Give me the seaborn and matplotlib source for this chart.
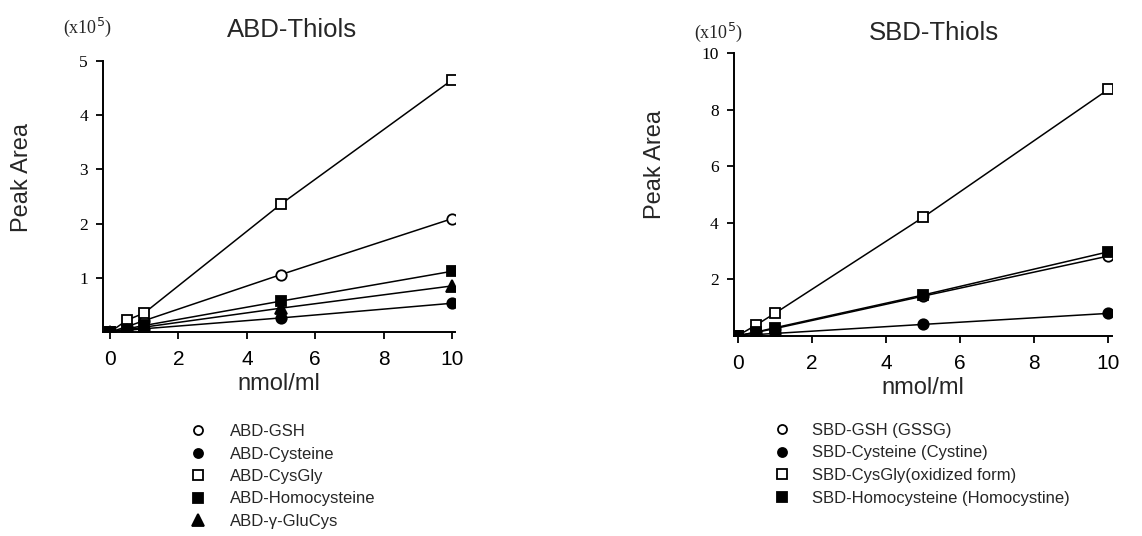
import numpy as np
import pandas as pd
import matplotlib
matplotlib.use("Agg")
import matplotlib.pyplot as plt
from matplotlib.lines import Line2D
import seaborn as sns

# ---------------- data (peak area, x10^5) ----------------
conc = [0, 0.5, 1, 5, 10]  # nmol/ml

abd_names = ["ABD-GSH", "ABD-Cysteine", "ABD-CysGly", "ABD-Homocysteine", "ABD-\u03b3-GluCys"]
abd_gsh = [0.0, 0.10, 0.21, 1.06, 2.09]
abd_cys = [0.0, 0.03, 0.06, 0.26, 0.53]
abd_cysgly = [0.0, 0.22, 0.35, 2.36, 4.65]
abd_hcy = [0.0, 0.06, 0.12, 0.57, 1.12]
abd_glucys = [0.0, 0.04, 0.09, 0.44, 0.85]

sbd_names = ["SBD-GSH (GSSG)", "SBD-Cysteine (Cystine)", "SBD-CysGly(oxidized form)",
             "SBD-Homocysteine (Homocystine)"]
sbd_gsh = [0.0, 0.12, 0.25, 1.40, 2.82]
sbd_cys = [0.0, 0.04, 0.08, 0.40, 0.79]
sbd_cysgly = [0.0, 0.38, 0.79, 4.19, 8.72]
sbd_hcy = [0.0, 0.13, 0.28, 1.44, 2.97]

abd_series = [abd_gsh, abd_cys, abd_cysgly, abd_hcy, abd_glucys]
sbd_series = [sbd_gsh, sbd_cys, sbd_cysgly, sbd_hcy]

# marker styles: (marker, filled)
abd_styles = [("o", False), ("o", True), ("s", False), ("s", True), ("^", True)]
sbd_styles = [("o", False), ("o", True), ("s", False), ("s", True)]

x_ticks = [0, 2, 4, 6, 8, 10]
abd_yticks = [1, 2, 3, 4, 5]
sbd_yticks = [2, 4, 6, 8, 10]

# ---------------- style ----------------
sns.set_style("ticks")
plt.rcParams["font.family"] = ["Liberation Sans", "DejaVu Sans"]
SERIF = ["Liberation Serif", "DejaVu Serif"]

fig = plt.figure(figsize=(11.42, 5.36), dpi=100)
W, H = 1142, 536


def add_axes_px(x0, x1, ytop, ybot):
    return fig.add_axes([x0 / W, (H - ybot) / H, (x1 - x0) / W, (ybot - ytop) / H])


def draw_panel(ax, names, series, styles, ymax, yticks, xlim):
    rows = []
    for name, vals in zip(names, series):
        for c, v in zip(conc, vals):
            rows.append({"series": name, "conc": c, "area": v})
    df = pd.DataFrame(rows)
    for name, (m, filled) in zip(names, styles):
        sub = df[df["series"] == name]
        sns.lineplot(data=sub, x="conc", y="area", ax=ax, color="black", lw=1.1,
                     marker=m, markersize=7.5 if m != "^" else 8.5,
                     markerfacecolor="black" if filled else "white",
                     markeredgecolor="black", markeredgewidth=1.3, legend=False)
    ax.set_xlim(*xlim)
    ax.set_ylim(0, ymax)
    ax.set_xticks(x_ticks)
    ax.set_yticks(yticks)
    ax.set_xticklabels([str(t) for t in x_ticks], fontsize=15)
    ax.set_yticklabels([str(t) for t in yticks], fontsize=12.5, family=SERIF)
    for s in ["top", "right"]:
        ax.spines[s].set_visible(False)
    for s in ["left", "bottom"]:
        ax.spines[s].set_linewidth(1.4)
        ax.spines[s].set_color("black")
    ax.tick_params(direction="out", length=5, width=1.3, colors="black")
    ax.tick_params(axis="x", pad=8)
    ax.tick_params(axis="y", pad=6)
    ax.set_xlabel("nmol/ml", fontsize=17, labelpad=3)
    ax.set_ylabel("")


axL = add_axes_px(103.2, 455.4, 61, 332)
draw_panel(axL, abd_names, abd_series, abd_styles, 5, abd_yticks, (-0.2, 10.1))
axR = add_axes_px(734, 1112, 53.3, 335.7)
draw_panel(axR, sbd_names, sbd_series, sbd_styles, 10, sbd_yticks, (-0.1, 10.1))

# titles, y-labels, multipliers
fig.text(292 / W, 1 - 30 / H, "ABD-Thiols", ha="center", va="center", fontsize=18.5)
fig.text(934 / W, 1 - 33 / H, "SBD-Thiols", ha="center", va="center", fontsize=18.5)
fig.text(22 / W, 1 - 177 / H, "Peak Area", rotation=90, ha="center", va="center", fontsize=17)
fig.text(655 / W, 1 - 165 / H, "Peak Area", rotation=90, ha="center", va="center", fontsize=17)
fig.text(87 / W, 1 - 27 / H, "(x10$^5$)", ha="center", va="center", fontsize=13, family=SERIF)
fig.text(718 / W, 1 - 32 / H, "(x10$^5$)", ha="center", va="center", fontsize=13, family=SERIF)


def make_handles(styles):
    hs = []
    for m, filled in styles:
        hs.append(Line2D([], [], linestyle="none", marker=m,
                         markersize=6.5 if m != "^" else 9,
                         markerfacecolor="black" if filled else "white",
                         markeredgecolor="black", markeredgewidth=1.3))
    return hs


legL = fig.legend(make_handles(abd_styles), abd_names, loc="upper left",
                  bbox_to_anchor=(188 / W, 1 - 424 / H), frameon=False,
                  fontsize=12, handletextpad=1.3, labelspacing=0.45,
                  handlelength=1.2, borderpad=0, borderaxespad=0)
legR = fig.legend(make_handles(sbd_styles), sbd_names, loc="upper left",
                  bbox_to_anchor=(772 / W, 1 - 423 / H), frameon=False,
                  fontsize=12, handletextpad=1.2, labelspacing=0.45,
                  handlelength=1.2, borderpad=0, borderaxespad=0)

fig.savefig("out.png", dpi=100)
